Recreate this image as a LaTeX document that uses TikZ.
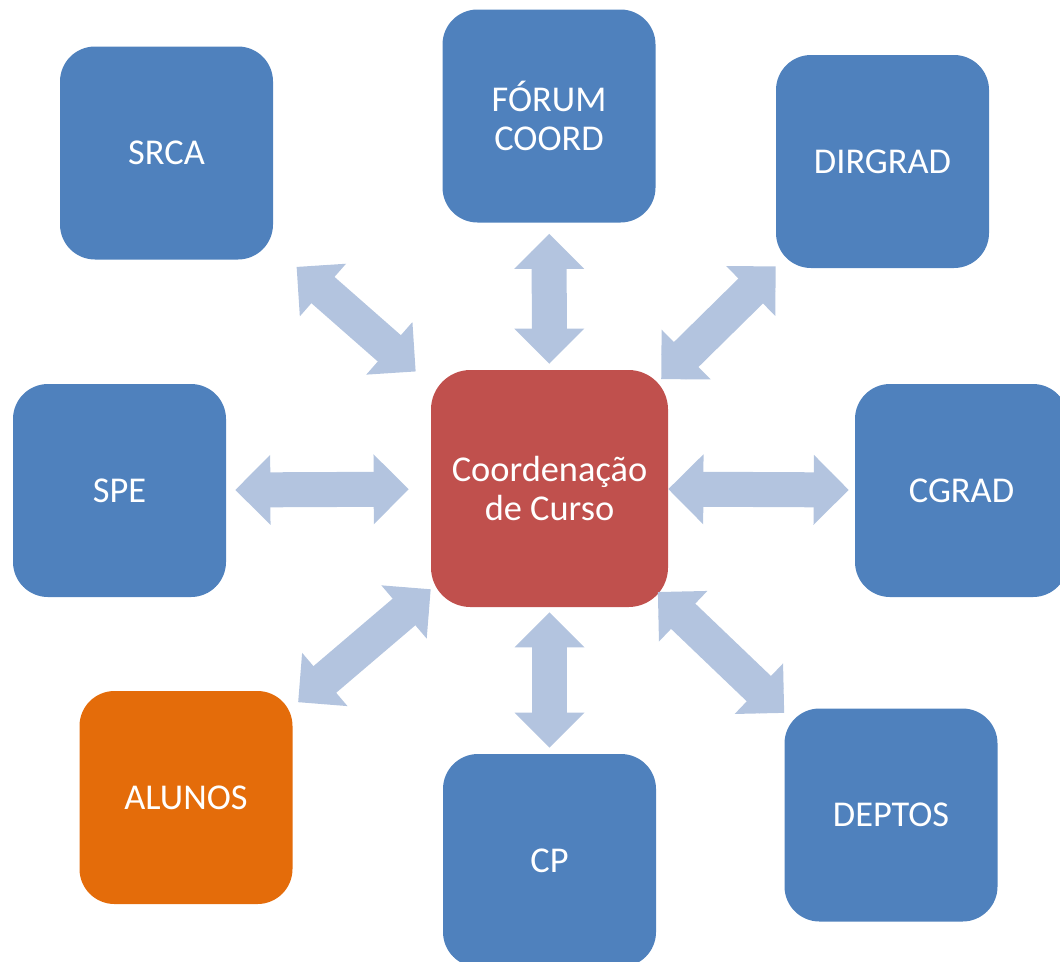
\documentclass[tikz,border=0pt]{standalone}
\usepackage{fontspec}
\setmainfont{Carlito}
\usetikzlibrary{arrows.meta}

\definecolor{boxblue}{RGB}{79,129,189}
\definecolor{boxred}{RGB}{192,80,77}
\definecolor{boxorange}{RGB}{228,108,10}
\definecolor{linkblue}{RGB}{179,196,223}

\begin{document}
\begin{tikzpicture}[
  font=\fontsize{20.7}{22.2}\selectfont,
  unit/.style={fill=boxblue, text=white, rounded corners=0.7cm, align=center,
               inner sep=0pt, minimum size=4.26cm},
  hub/.style={unit, fill=boxred, rounded corners=0.79cm, minimum size=4.74cm},
  stud/.style={unit, fill=boxorange},
  link/.style={linkblue, line width=0.7cm, line cap=rect,
    {Triangle[length=0.7cm, width=1.4cm, line width=0pt]}-{Triangle[length=0.7cm, width=1.4cm, line width=0pt]}},
]
\useasboundingbox (0,0) rectangle (21.2,-19.22);
% hub in the middle
\node[hub] (coord) at (10.99,-9.77) {Coordenação\\de Curso};
% ring of units around it
\node[unit] (srca) at (3.33,-3.06) {SRCA};
\node[unit] (forum) at (10.98,-2.32) {FÓRUM\\COORD};
\node[unit] (dirgrad) at (17.65,-3.23) {DIRGRAD};
\node[unit] (spe) at (2.39,-9.81) {SPE};
\node[unit] (cgrad) at (19.23,-9.81) {CGRAD};
\node[stud] (alunos) at (3.72,-15.95) {ALUNOS};
\node[unit] (cp) at (10.99,-17.21) {CP};
\node[unit] (deptos) at (17.82,-16.30) {DEPTOS};
% two-way links to the hub
\draw[link, shorten <=0.62cm, shorten >=0.40cm] (srca) -- (coord);
\draw[link, shorten <=0.22cm, shorten >=0.12cm] (forum) -- (coord);
\draw[link, shorten <=0cm, shorten >=-0.2cm] (dirgrad) -- (coord);
\draw[link, shorten <=0.18cm, shorten >=0.44cm] (spe) -- (coord);
\draw[link, shorten <=0.12cm, shorten >=0cm] (cgrad) -- (coord);
\draw[link, shorten <=0.14cm, shorten >=0cm] (alunos) -- (coord);
\draw[link, shorten <=0.12cm, shorten >=0.10cm] (cp) -- (coord);
\draw[link, shorten <=0cm, shorten >=-0.29cm] (deptos) -- (coord);
\end{tikzpicture}
\end{document}
